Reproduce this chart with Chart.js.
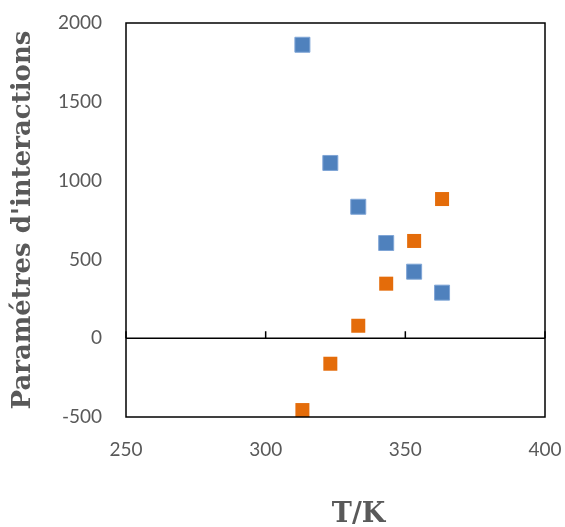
<!DOCTYPE html>
<html>
<head>
<meta charset="utf-8">
<script src="https://cdn.jsdelivr.net/npm/chart.js@4/dist/chart.umd.min.js"></script>
<style>
  html, body { margin: 0; padding: 0; background: #fff; }
  #wrap { width: 565px; height: 527px; }
</style>
</head>
<body>
<div id="wrap"><canvas id="scatterChart" width="565" height="527"></canvas></div>
<script>
// データ
const temps = [313.15, 323.15, 333.15, 343.15, 353.15, 363.15];
const serieBleue = [1862, 1112, 834, 604, 422, 289];
const serieOrange = [-456, -162, 79, 346, 617, 883];
const xTicks = [250, 300, 350, 400];
const yTicks = [-500, 0, 500, 1000, 1500, 2000];

const grisTexte = '#595959';

// 枠線・y=0の軸線・目盛りを描くプラグイン
const cadre = {
    id: 'cadre',
    afterDraw(chart) {
        const ctx = chart.ctx;
        const a = chart.chartArea;
        const x = chart.scales.x, y = chart.scales.y;
        ctx.save();
        ctx.strokeStyle = '#000';
        ctx.lineWidth = 1.5;
        ctx.strokeRect(a.left, a.top, a.right - a.left, a.bottom - a.top);
        const y0 = y.getPixelForValue(0);
        ctx.beginPath();
        ctx.moveTo(a.left, y0);
        ctx.lineTo(a.right, y0);
        xTicks.forEach(v => {
            const px = x.getPixelForValue(v);
            ctx.moveTo(px, y0);
            ctx.lineTo(px, y0 - 7);
        });
        ctx.stroke();
        // x軸タイトル（少し右寄り）
        ctx.fillStyle = grisTexte;
        ctx.font = 'bold 27px "DejaVu Serif"';
        ctx.textAlign = 'center';
        ctx.textBaseline = 'alphabetic';
        ctx.fillText('T/K', (a.left + a.right) / 2 + 23, 522);
        ctx.restore();
    }
};

// 目盛り線は見えないようにして、ラベルとの間隔だけに使う
const grilleInvisible = len => ({
    display: true, color: 'transparent', drawOnChartArea: false,
    drawTicks: true, tickLength: len
});

document.addEventListener("DOMContentLoaded", function () {
    const ctx = document.getElementById('scatterChart').getContext('2d');
    new Chart(ctx, {
        type: 'scatter',
        data: {
            datasets: [{
                data: temps.map((t, i) => ({ x: t, y: serieBleue[i] })),
                backgroundColor: '#4F81BD',
                borderColor: '#7FA5D6',
                borderWidth: 1,
                pointStyle: 'rect',
                pointRadius: 10.6,
                pointHoverRadius: 10.6
            }, {
                data: temps.map((t, i) => ({ x: t, y: serieOrange[i] })),
                backgroundColor: '#E46C0A',
                borderColor: '#E46C0A',
                borderWidth: 0,
                pointStyle: 'rect',
                pointRadius: 9.9,
                pointHoverRadius: 9.9
            }]
        },
        options: {
            responsive: false,
            animation: false,
            layout: { autoPadding: false, padding: { top: 23, right: 20, left: 0, bottom: 0 } },
            plugins: { legend: { display: false }, tooltip: { enabled: false } },
            scales: {
                x: {
                    type: 'linear',
                    min: 250, max: 400,
                    afterBuildTicks: s => { s.ticks = xTicks.map(v => ({ value: v })); },
                    afterFit: s => { s.height = 110; },
                    grid: grilleInvisible(21),
                    border: { display: false },
                    ticks: { color: grisTexte, font: { family: 'Lato', size: 19 }, padding: 0, callback: v => String(v) }
                },
                y: {
                    min: -500, max: 2000,
                    afterBuildTicks: s => { s.ticks = yTicks.map(v => ({ value: v })); },
                    afterFit: s => { s.width = 126; },
                    grid: grilleInvisible(24),
                    border: { display: false },
                    ticks: { color: grisTexte, font: { family: 'Lato', size: 19 }, padding: 0, callback: v => String(v) },
                    title: {
                        display: true,
                        text: "Paramétres d'interactions",
                        color: grisTexte,
                        font: { family: 'DejaVu Serif', size: 26, weight: 'bold' },
                        padding: { top: 8, bottom: 0 }
                    }
                }
            }
        },
        plugins: [cadre]
    });
});
</script>
</body>
</html>
